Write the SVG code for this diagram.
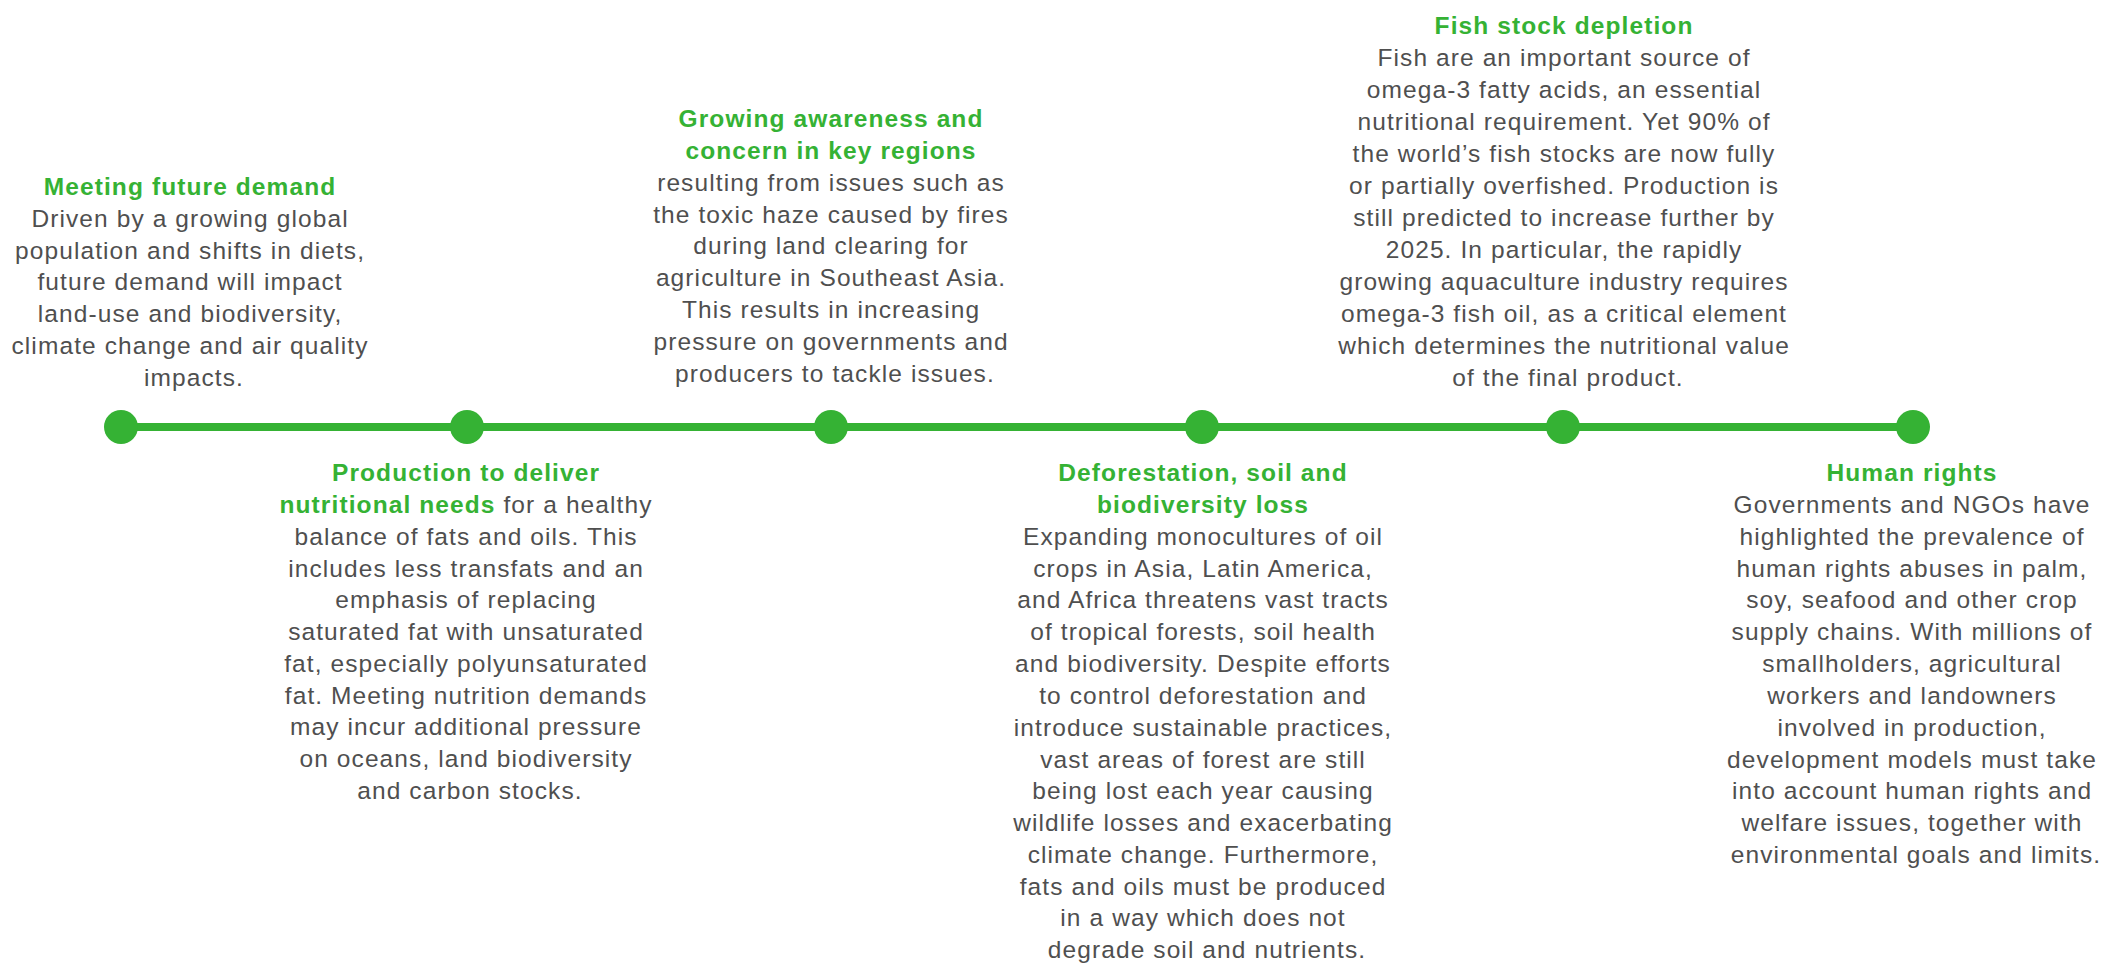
<svg xmlns="http://www.w3.org/2000/svg" width="2104" height="963" viewBox="0 0 2104 963">
  <style>
    text { font-family: "Liberation Sans", Arial, Helvetica, sans-serif; font-size: 24.5px; letter-spacing: 1.1px; text-anchor: middle; fill: #4f4f4f; }
    .head { font-weight: bold; fill: #35b234; }
    .dot { fill: #35b234; }
    .track { stroke: #35b234; stroke-width: 8; fill: none; }
  </style>
  <rect width="2104" height="963" fill="#ffffff"/>

  <!-- timeline track -->
  <g id="connectors">
    <line class="track" x1="121" y1="427" x2="1913" y2="427"/>
  </g>

  <!-- milestone 1 -->
  <g id="node-meeting-demand">
    <circle class="dot" cx="121" cy="427" r="17"/>
    <text transform="translate(4 0)">
      <tspan class="head" x="190" y="195">Meeting future demand</tspan>
      <tspan x="190" y="227">Driven by a growing global</tspan>
      <tspan x="190" y="259">population and shifts in diets,</tspan>
      <tspan x="190" y="290">future demand will impact</tspan>
      <tspan x="190" y="322">land-use and biodiversity,</tspan>
      <tspan x="190" y="354">climate change and air quality</tspan>
      <tspan x="190" y="386">impacts.</tspan>
    </text>
  </g>

  <!-- milestone 2 -->
  <g id="node-nutrition">
    <circle class="dot" cx="467" cy="427" r="17"/>
    <text transform="translate(4 0)">
      <tspan class="head" x="466" y="481">Production to deliver</tspan>
      <tspan x="466" y="513"><tspan class="head">nutritional needs</tspan> for a healthy</tspan>
      <tspan x="466" y="545">balance of fats and oils. This</tspan>
      <tspan x="466" y="577">includes less transfats and an</tspan>
      <tspan x="466" y="608">emphasis of replacing</tspan>
      <tspan x="466" y="640">saturated fat with unsaturated</tspan>
      <tspan x="466" y="672">fat, especially polyunsaturated</tspan>
      <tspan x="466" y="704">fat. Meeting nutrition demands</tspan>
      <tspan x="466" y="735">may incur additional pressure</tspan>
      <tspan x="466" y="767">on oceans, land biodiversity</tspan>
      <tspan x="466" y="799">and carbon stocks.</tspan>
    </text>
  </g>

  <!-- milestone 3 -->
  <g id="node-awareness">
    <circle class="dot" cx="831" cy="427" r="17"/>
    <text transform="translate(4 0)">
      <tspan class="head" x="831" y="127">Growing awareness and</tspan>
      <tspan class="head" x="831" y="159">concern in key regions</tspan>
      <tspan x="831" y="191">resulting from issues such as</tspan>
      <tspan x="831" y="223">the toxic haze caused by fires</tspan>
      <tspan x="831" y="254">during land clearing for</tspan>
      <tspan x="831" y="286">agriculture in Southeast Asia.</tspan>
      <tspan x="831" y="318">This results in increasing</tspan>
      <tspan x="831" y="350">pressure on governments and</tspan>
      <tspan x="831" y="382">producers to tackle issues.</tspan>
    </text>
  </g>

  <!-- milestone 4 -->
  <g id="node-deforestation">
    <circle class="dot" cx="1202" cy="427" r="17"/>
    <text transform="translate(4 0)">
      <tspan class="head" x="1203" y="481">Deforestation, soil and</tspan>
      <tspan class="head" x="1203" y="513">biodiversity loss</tspan>
      <tspan x="1203" y="545">Expanding monocultures of oil</tspan>
      <tspan x="1203" y="577">crops in Asia, Latin America,</tspan>
      <tspan x="1203" y="608">and Africa threatens vast tracts</tspan>
      <tspan x="1203" y="640">of tropical forests, soil health</tspan>
      <tspan x="1203" y="672">and biodiversity. Despite efforts</tspan>
      <tspan x="1203" y="704">to control deforestation and</tspan>
      <tspan x="1203" y="736">introduce sustainable practices,</tspan>
      <tspan x="1203" y="768">vast areas of forest are still</tspan>
      <tspan x="1203" y="799">being lost each year causing</tspan>
      <tspan x="1203" y="831">wildlife losses and exacerbating</tspan>
      <tspan x="1203" y="863">climate change. Furthermore,</tspan>
      <tspan x="1203" y="895">fats and oils must be produced</tspan>
      <tspan x="1203" y="926">in a way which does not</tspan>
      <tspan x="1203" y="958">degrade soil and nutrients.</tspan>
    </text>
  </g>

  <!-- milestone 5 -->
  <g id="node-fish-stock">
    <circle class="dot" cx="1563" cy="427" r="17"/>
    <text transform="translate(4 0)">
      <tspan class="head" x="1564" y="34">Fish stock depletion</tspan>
      <tspan x="1564" y="66">Fish are an important source of</tspan>
      <tspan x="1564" y="98">omega-3 fatty acids, an essential</tspan>
      <tspan x="1564" y="130">nutritional requirement. Yet 90% of</tspan>
      <tspan x="1564" y="162">the world’s fish stocks are now fully</tspan>
      <tspan x="1564" y="194">or partially overfished. Production is</tspan>
      <tspan x="1564" y="226">still predicted to increase further by</tspan>
      <tspan x="1564" y="258">2025. In particular, the rapidly</tspan>
      <tspan x="1564" y="290">growing aquaculture industry requires</tspan>
      <tspan x="1564" y="322">omega-3 fish oil, as a critical element</tspan>
      <tspan x="1564" y="354">which determines the nutritional value</tspan>
      <tspan x="1564" y="386">of the final product.</tspan>
    </text>
  </g>

  <!-- milestone 6 -->
  <g id="node-human-rights">
    <circle class="dot" cx="1913" cy="427" r="17"/>
    <text transform="translate(4 0)">
      <tspan class="head" x="1912" y="481">Human rights</tspan>
      <tspan x="1912" y="513">Governments and NGOs have</tspan>
      <tspan x="1912" y="545">highlighted the prevalence of</tspan>
      <tspan x="1912" y="577">human rights abuses in palm,</tspan>
      <tspan x="1912" y="608">soy, seafood and other crop</tspan>
      <tspan x="1912" y="640">supply chains. With millions of</tspan>
      <tspan x="1912" y="672">smallholders, agricultural</tspan>
      <tspan x="1912" y="704">workers and landowners</tspan>
      <tspan x="1912" y="736">involved in production,</tspan>
      <tspan x="1912" y="768">development models must take</tspan>
      <tspan x="1912" y="799">into account human rights and</tspan>
      <tspan x="1912" y="831">welfare issues, together with</tspan>
      <tspan x="1912" y="863">environmental goals and limits.</tspan>
    </text>
  </g>
</svg>
